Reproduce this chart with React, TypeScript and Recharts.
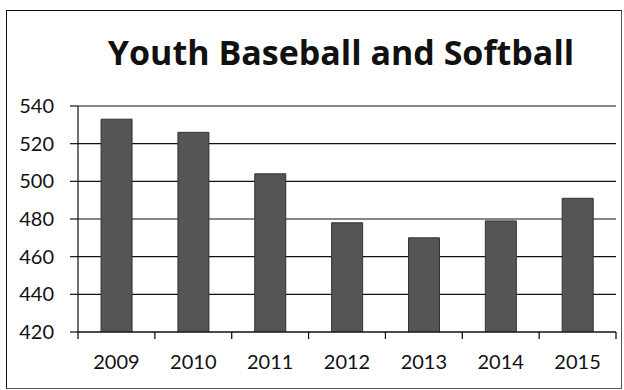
import React from 'react';
import { BarChart, Bar, XAxis, YAxis, CartesianGrid } from 'recharts';

const years = ['2009', '2010', '2011', '2012', '2013', '2014', '2015'];
const participants = [533, 526, 504, 478, 470, 479, 491];
const yTicks = [420, 440, 460, 480, 500, 520, 540];

const data = years.map((y, i) => ({ year: y, value: participants[i] }));

const FONT = 'Lato, "Open Sans", sans-serif';
const TITLE_FONT = '"Open Sans", Lato, sans-serif';

const XTick = (props: any) => {
  const { x, y, payload, index } = props;
  const half = payload && typeof payload.offset === 'number' && payload.offset > 0 ? payload.offset : 538 / 14;
  const axisY = 332;
  return (
    <g>
      <line x1={x - half} x2={x - half} y1={axisY} y2={axisY + 7} stroke="#000" strokeWidth={1.2} />
      {index === years.length - 1 && (
        <line x1={x + half} x2={x + half} y1={axisY} y2={axisY + 7} stroke="#000" strokeWidth={1.2} />
      )}
      <text x={x} y={y} dy="0.71em" textAnchor="middle" fontSize={20} fontFamily={FONT} fill="#111">
        {payload.value}
      </text>
    </g>
  );
};

export default function App() {
  return (
    <div style={{ position: 'absolute', left: 0, top: 0, width: 624, height: 390, background: '#fff' }}>
      <div
        style={{
          position: 'absolute',
          left: 6,
          top: 10,
          width: 614,
          height: 377,
          border: '1.5px solid #111',
          borderRight: '1px solid #555',
          borderBottom: '1px solid #555',
        }}
      />
      <div
        style={{
          position: 'absolute',
          left: 0,
          width: 682,
          top: 29,
          textAlign: 'center',
          fontFamily: TITLE_FONT,
          fontWeight: 700,
          fontSize: 34,
          lineHeight: '46px',
          color: '#111',
          whiteSpace: 'nowrap',
        }}
      >
        Youth Baseball and Softball
      </div>
      <div style={{ position: 'absolute', left: 0, top: 0 }}>
        <BarChart
          width={624}
          height={390}
          data={data}
          margin={{ top: 106, right: 8, left: 0, bottom: 0 }}
          barCategoryGap="30%"
        >
          <CartesianGrid vertical={false} stroke="#111" strokeWidth={1.2} strokeDasharray="" />
          <XAxis
            dataKey="year"
            height={58}
            axisLine={{ stroke: '#111', strokeWidth: 1.2 }}
            tickLine={false}
            tickMargin={23}
            tickSize={0}
            tick={<XTick />}
            interval={0}
          />
          <YAxis
            width={78}
            domain={[420, 540]}
            ticks={yTicks}
            interval={0}
            allowDataOverflow
            axisLine={{ stroke: '#111', strokeWidth: 1.2 }}
            tickLine={{ stroke: '#111', strokeWidth: 1.2 }}
            tickSize={8}
            tickMargin={16}
            tick={{ fontSize: 20, fontFamily: FONT, fill: '#111' }}
          />
          <Bar dataKey="value" fill="#555" stroke="#333" strokeWidth={1} isAnimationActive={false} />
        </BarChart>
      </div>
    </div>
  );
}
